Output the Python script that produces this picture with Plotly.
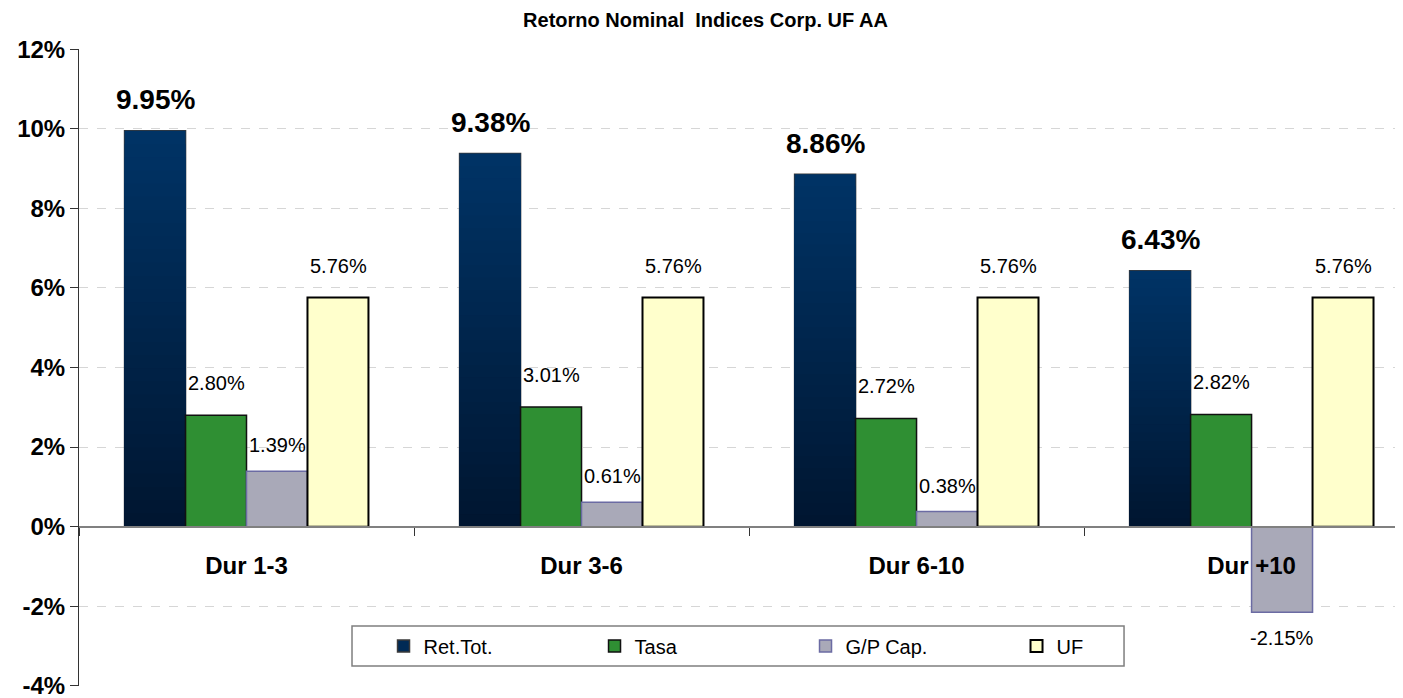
import plotly.graph_objects as go

categories = ["Dur 1-3", "Dur 3-6", "Dur 6-10", "Dur +10"]
ret_tot = [9.95, 9.38, 8.86, 6.43]
tasa = [2.80, 3.01, 2.72, 2.82]
gp_cap = [1.39, 0.61, 0.38, -2.15]
uf = [5.76, 5.76, 5.76, 5.76]

y_tickvals = [-4, -2, 0, 2, 4, 6, 8, 10, 12]
y_ticktext = ["-4%", "-2%", "0%", "2%", "4%", "6%", "8%", "10%", "12%"]

FONT = "Arial, Liberation Sans, sans-serif"
N_SLICES = 30
BOTTOM_RGB = (0, 22, 48)
TOP_RGB = (0, 51, 102)
PAGE_PAD = 8  # default body margin of the written html page


def shade(frac):
    r, g, b = (round(lo + (hi - lo) * frac) for lo, hi in zip(BOTTOM_RGB, TOP_RGB))
    return f"rgb({r},{g},{b})"


fig = go.Figure()

# Ret.Tot. base bar (legend + border), gradient painted over it
fig.add_trace(
    go.Bar(
        x=categories, y=ret_tot, name="Ret.Tot.", offsetgroup="ret",
        marker=dict(color="#002a55", line=dict(color="#3a3a3a", width=1.5)),
        hoverinfo="skip",
    )
)
for k in range(N_SLICES):
    frac = (N_SLICES - k) / N_SLICES
    fig.add_trace(
        go.Bar(
            x=categories, y=[v * frac for v in ret_tot], offsetgroup="ret",
            marker=dict(color=shade((N_SLICES - k - 0.5) / N_SLICES), line=dict(width=0)),
            showlegend=False, hoverinfo="skip",
        )
    )

fig.add_trace(
    go.Bar(
        x=categories, y=tasa, name="Tasa", offsetgroup="tasa",
        marker=dict(color="#2f8f33", line=dict(color="#111111", width=1.5)),
    )
)
fig.add_trace(
    go.Bar(
        x=categories, y=gp_cap, name="G/P Cap.", offsetgroup="gp",
        marker=dict(color="#a9a9b8", line=dict(color="#6b6ba3", width=1.5)),
    )
)
fig.add_trace(
    go.Bar(
        x=categories, y=uf, name="UF", offsetgroup="uf",
        marker=dict(color="#ffffcc", line=dict(color="#000000", width=2)),
    )
)

# value labels
bar_px = 61
label_specs = [
    (ret_tot, -1.5, 31, dict(size=28, weight="bold")),
    (tasa, -0.5, 32, dict(size=20)),
    (gp_cap, 0.5, 26, dict(size=20)),
    (uf, 1.5, 31, dict(size=20)),
]
for vals, pos, shift, fnt in label_specs:
    for cat, v in zip(categories, vals):
        fig.add_annotation(
            x=cat, y=v, xref="x", yref="y",
            text=f"{v:.2f}%",
            xshift=pos * bar_px, yshift=shift if v >= 0 else -shift,
            showarrow=False,
            font=dict(family=FONT, color="#000000", **fnt),
        )

# legend frame
fig.add_shape(
    type="rect", xref="paper", yref="paper",
    x0=0.2062, x1=0.7893, y0=0.0314, y1=0.0942,
    line=dict(color="#7f7f7f", width=1.5), fillcolor="white", layer="below",
)

fig.update_layout(
    width=1403 - PAGE_PAD, height=698 - PAGE_PAD,
    margin=dict(l=79 - PAGE_PAD, r=0, t=49 - PAGE_PAD, b=12),
    paper_bgcolor="white", plot_bgcolor="white",
    barmode="group", bargap=0.272, bargroupgap=0,
    title=dict(
        text="Retorno Nominal  Indices Corp. UF AA",
        x=0.5, xanchor="center", y=0.982, yanchor="middle",
        font=dict(family=FONT, size=20, weight="bold", color="#000000"),
    ),
    font=dict(family=FONT, color="#000000"),
    xaxis=dict(
        type="category", range=[-0.5, 3.452],
        anchor="free", position=0.25,
        showline=True, linecolor="#808080", linewidth=1.5,
        ticks="outside", tickson="boundaries", ticklen=8, tickcolor="#333333",
        ticklabelstandoff=18,
        tickfont=dict(family=FONT, size=24, weight="bold", color="#000000"),
        showgrid=False, zeroline=False,
    ),
    yaxis=dict(
        range=[-4.006, 12.006], tickvals=y_tickvals, ticktext=y_ticktext,
        showline=True, linecolor="#333333", linewidth=1,
        ticks="outside", ticklen=8, tickcolor="#333333",
        ticklabeloverflow="allow",
        gridcolor="#d6d6d6", griddash="dash", zeroline=False,
        tickfont=dict(family=FONT, size=24, weight="bold", color="#000000"),
    ),
    legend=dict(
        orientation="h", x=0.23, xanchor="left", y=0.0628, yanchor="middle",
        bgcolor="rgba(0,0,0,0)", borderwidth=0,
        entrywidth=166, entrywidthmode="pixels",
        font=dict(family=FONT, size=20, color="#000000"),
        traceorder="normal",
    ),
    showlegend=True,
)

fig.write_html("out.html")
